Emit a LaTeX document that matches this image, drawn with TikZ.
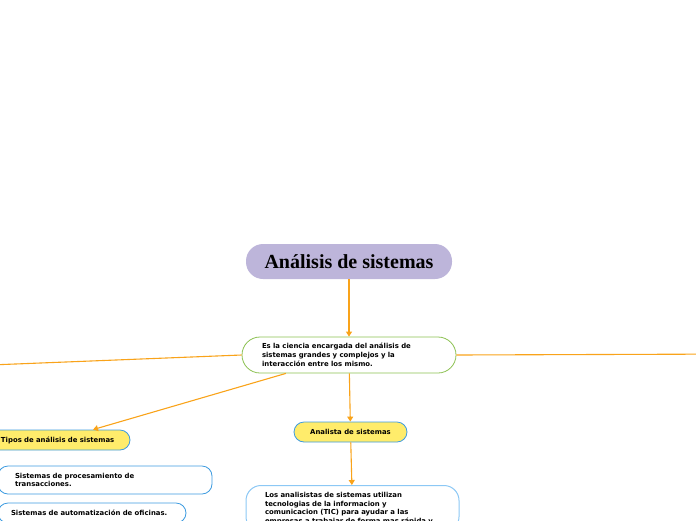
\documentclass[tikz,border=0pt]{standalone}
\usepackage{fontspec}
\usepackage{xcolor}
\usetikzlibrary{arrows.meta,positioning}
\newfontfamily\titlefont{Liberation Serif}
\newfontfamily\boxfont{DejaVu Sans}
\definecolor{lavender}{HTML}{BDB5DA}
\definecolor{linkorange}{HTML}{F9A31A}
\definecolor{leafgreen}{HTML}{8CC152}
\definecolor{boxblue}{HTML}{3D9BE0}
\definecolor{paleblue}{HTML}{8CC8F5}
\definecolor{topicyellow}{HTML}{FFEC6B}

\begin{document}
\begin{tikzpicture}[
    x=1pt, y=-1pt,
    every node/.style={inner sep=0pt, font=\boxfont\bfseries\fontsize{6.9}{9}\selectfont},
    central/.style={fill=lavender, rounded corners=17pt, minimum width=206pt, minimum height=35pt, font=\titlefont\bfseries\fontsize{20}{22}\selectfont},
    mainidea/.style={draw=leafgreen, line width=0.8pt, fill=white, rounded corners=18pt, minimum width=214pt, minimum height=36pt, text width=174pt, inner xsep=20pt, align=left},
    topic/.style={draw=boxblue, line width=0.8pt, fill=topicyellow, rounded corners=10pt, minimum height=20pt},
    detail/.style={draw=boxblue, line width=0.8pt, fill=white, rounded corners=10pt, align=left},
    note/.style={draw=paleblue, line width=1pt, fill=white, rounded corners=15pt, minimum width=213pt, text width=175pt, inner xsep=19pt, inner ysep=7pt, align=left, anchor=north},
    conn/.style={draw=linkorange, line width=1.1pt, -{Triangle[width=6pt,length=5pt]}}
]
\clip (0,0) rectangle (696,520);

% Central topic
\node[central] (title) at (349,261.5) {Análisis de sistemas};

% Main idea
\node[mainidea] (main) at (349,355) {Es la ciencia encargada del análisis de\\ sistemas grandes y complejos y la\\ interacción entre los mismo.};

% Subtopics
\node[topic, minimum width=142pt, text width=116pt, align=left, inner xsep=13pt] (tipos) at (59,440) {Tipos de análisis de sistemas};
\node[topic, minimum width=113pt] (analista) at (350.5,432) {Analista de sistemas};

% Details
\node[detail, minimum width=214pt, minimum height=28pt, text width=180pt, inner xsep=17pt, font=\boxfont\bfseries\fontsize{6.9}{8.2}\selectfont] (procesamiento) at (105,480) {Sistemas de procesamiento de\\ transacciones.};
\node[detail, minimum width=188pt, minimum height=20pt, text width=162pt, inner xsep=13pt] (oficinas) at (92,513) {Sistemas de automatización de oficinas.};
\node[note, font=\boxfont\bfseries\fontsize{6.9}{8.5}\selectfont] (analistas) at (352.5,485) {Los analisistas de sistemas utilizan\\ tecnologias de la informacion y\\ comunicacion (TIC) para ayudar a las\\ empresas a trabajar de forma mas rápida y};

% Off-page ends
\coordinate (offleft) at (-40,366.2);
\coordinate (offright) at (740,354);

% Connections
\draw[conn] (title) -- (main);
\draw[conn] (main.west) -- (offleft);
\draw[conn] (main.east) -- (offright);
\draw[conn] (main) -- ([xshift=34pt]tipos.north);
\draw[conn] (main) -- (analista);
\draw[conn] (analista) -- (analistas);

\end{tikzpicture}
\end{document}
